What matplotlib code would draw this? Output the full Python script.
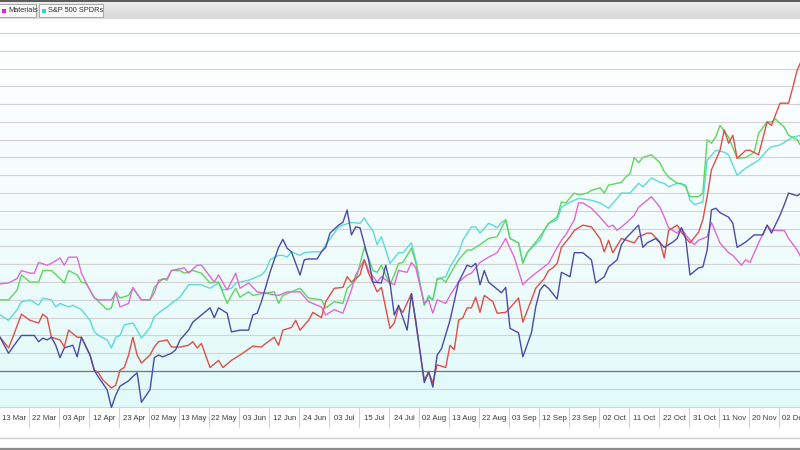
import numpy as np
import matplotlib
matplotlib.use("Agg")
import matplotlib.pyplot as plt
from matplotlib.colors import LinearSegmentedColormap
from matplotlib.patches import Rectangle
from matplotlib.lines import Line2D

# Sector performance vs S&P 500, % change, x = trading session index

labels = ["13 Mar", "22 Mar", "03 Apr", "12 Apr", "23 Apr", "02 May", "13 May",
          "22 May", "03 Jun", "12 Jun", "24 Jun", "03 Jul", "15 Jul", "24 Jul",
          "02 Aug", "13 Aug", "22 Aug", "03 Sep", "12 Sep", "23 Sep", "02 Oct",
          "11 Oct", "22 Oct", "31 Oct", "11 Nov", "20 Nov", "02 Dec"]
sessions_per_label = 7

navy_x = [0, 2, 3, 5, 8, 9, 10, 11, 12, 13, 14, 15, 17, 18, 19, 21, 22, 23, 25, 26,
          27, 28, 30, 31, 32, 33, 35, 36, 37, 38, 40, 41, 42, 44, 45, 47, 49, 50, 51, 53,
          54, 56, 58, 59, 60, 61, 63, 64, 65, 66, 67, 68, 70, 71, 72, 74, 75, 76, 77, 79,
          80, 81, 82, 83, 84, 86, 87, 89, 90, 91, 92, 93, 95, 96, 97, 99, 100, 101, 102, 103,
          105, 107, 109, 110, 111, 112, 113, 114, 117, 118, 119, 121, 122, 124, 125, 126, 127, 128, 130, 131,
          133, 134, 136, 138, 139, 141, 142, 144, 145, 146, 149, 150, 151, 153, 155, 157, 158, 159, 160, 161,
          163, 164, 165, 166, 167, 168, 170, 171, 172, 174, 176, 178, 179, 180, 182, 183, 184, 186, 187]
navy_y = [3.8, 2.0, 2.7, 4.0, 4.0, 3.3, 3.7, 3.5, 3.8, 2.9, 1.5, 2.6, 2.9, 1.6, 3.8, 1.8, 0.1, -0.7, -2.1, -4.1,
          -2.7, -1.7, -1.1, -0.6, -0.2, -3.5, -2.1, 1.5, 1.8, 1.6, 2.0, 2.4, 3.5, 4.6, 5.5, 6.3, 7.1, 6.0, 7.1, 6.5,
          4.4, 4.6, 4.6, 6.3, 6.5, 7.8, 11.1, 12.5, 13.9, 14.8, 13.8, 13.4, 10.8, 12.5, 12.6, 12.6, 13.4, 13.9, 15.5, 16.4,
          16.7, 18.1, 15.3, 16.2, 16.1, 12.5, 10.0, 9.9, 11.9, 9.9, 6.3, 7.4, 4.6, 8.7, 5.7, -1.3, -0.1, -1.8, 1.8, 2.5,
          5.7, 10.0, 11.9, 11.7, 12.1, 9.7, 11.3, 10.0, 8.8, 9.4, 4.8, 4.3, 1.6, 4.3, 7.2, 9.1, 9.7, 9.3, 8.1, 11.1,
          10.6, 13.3, 13.3, 12.5, 9.9, 10.6, 11.7, 12.5, 14.2, 14.9, 16.4, 13.9, 14.4, 14.9, 13.9, 14.5, 14.9, 16.1, 14.9, 10.8,
          11.6, 11.7, 13.6, 18.1, 18.3, 17.8, 17.3, 16.6, 13.9, 14.5, 15.3, 15.3, 16.4, 15.5, 17.5, 18.7, 20.0, 19.7, 20.0]

red_x = [0, 2, 3, 5, 7, 9, 10, 11, 12, 14, 15, 16, 18, 19, 21, 22, 23, 24, 26, 27,
         28, 29, 30, 31, 32, 33, 35, 36, 37, 39, 40, 42, 44, 45, 46, 47, 49, 51, 52, 54,
         56, 59, 61, 62, 64, 65, 66, 68, 69, 70, 72, 73, 75, 76, 78, 80, 81, 82, 84, 85,
         86, 88, 89, 91, 92, 93, 94, 96, 99, 100, 101, 102, 104, 105, 106, 107, 108, 109, 110, 111,
         112, 113, 115, 116, 118, 119, 121, 122, 124, 125, 127, 128, 129, 130, 131, 133, 134, 136, 138, 140,
         141, 142, 143, 145, 148, 149, 151, 152, 154, 155, 156, 158, 159, 161, 163, 164, 165, 166, 168, 169,
         170, 171, 172, 174, 175, 177, 179, 180, 182, 184, 185, 186, 187]
red_y = [3.8, 2.6, 3.8, 6.4, 5.7, 5.4, 6.4, 6.0, 3.8, 3.5, 2.7, 4.6, 3.8, 3.8, 1.8, 0.1, -0.2, -1.0, -1.9, -1.6,
         0.1, 0.4, 1.8, 3.8, 1.8, 0.9, 1.8, 2.7, 3.3, 3.5, 2.7, 2.7, 2.9, 3.3, 2.6, 3.1, 0.4, 1.2, 0.4, 1.2,
         1.8, 2.8, 2.7, 3.1, 3.8, 2.9, 4.6, 4.9, 5.7, 4.6, 5.7, 6.6, 6.0, 7.8, 9.3, 9.4, 10.6, 10.0, 10.8, 12.5,
         11.0, 8.9, 9.4, 4.8, 5.4, 7.2, 6.6, 8.7, -1.0, -0.1, -1.3, 0.7, 0.4, 2.9, 2.4, 5.7, 6.0, 7.1, 7.1, 8.3,
         6.6, 8.5, 7.8, 6.5, 6.6, 7.1, 8.2, 5.5, 8.0, 9.3, 10.4, 11.3, 11.6, 12.1, 13.9, 15.1, 15.8, 16.4, 16.2, 14.9,
         13.4, 14.7, 13.3, 14.9, 14.4, 15.1, 15.5, 15.5, 14.5, 12.7, 15.8, 16.4, 15.6, 14.4, 15.6, 17.0, 19.6, 22.6, 24.8, 27.1,
         25.6, 26.5, 23.9, 24.8, 24.8, 24.3, 28.0, 27.6, 30.1, 30.1, 31.9, 33.8, 34.9]

green_x = [0, 2, 4, 5, 7, 9, 10, 12, 14, 15, 16, 18, 19, 20, 22, 23, 25, 26, 27, 28,
           30, 31, 33, 35, 36, 38, 39, 40, 42, 43, 45, 47, 49, 51, 52, 53, 54, 55, 56, 58,
           59, 62, 64, 65, 66, 68, 70, 72, 75, 76, 78, 80, 81, 83, 85, 86, 87, 88, 89, 90,
           91, 92, 93, 94, 96, 97, 99, 100, 101, 102, 103, 104, 106, 107, 109, 110, 112, 114, 116, 118,
           119, 121, 122, 123, 124, 126, 128, 130, 131, 132, 134, 135, 137, 138, 140, 141, 142, 145, 146, 147,
           148, 149, 150, 152, 154, 155, 156, 158, 159, 160, 161, 163, 164, 165, 166, 167, 168, 170, 172, 174,
           176, 177, 179, 180, 181, 183, 184, 186, 187]
green_y = [8.0, 8.0, 9.1, 10.8, 10.0, 10.0, 11.3, 11.3, 10.4, 9.9, 11.3, 10.8, 10.0, 9.9, 8.3, 7.8, 6.9, 7.1, 8.9, 8.2,
           8.5, 9.3, 8.0, 8.0, 9.4, 10.4, 10.2, 11.3, 11.3, 11.0, 11.3, 11.0, 9.9, 10.0, 8.8, 7.6, 8.5, 9.3, 8.3, 8.9,
           8.5, 8.8, 8.9, 7.6, 8.5, 8.9, 9.3, 8.2, 8.0, 7.1, 7.8, 7.6, 9.3, 10.2, 13.9, 12.7, 11.3, 11.1, 11.9, 10.8,
           9.7, 10.8, 12.1, 12.2, 13.8, 12.2, 7.4, 8.3, 8.0, 10.3, 10.4, 10.0, 11.7, 12.5, 13.6, 13.6, 14.2, 14.9, 15.1, 17.0,
           14.9, 14.4, 12.1, 13.3, 13.9, 15.1, 16.6, 17.3, 19.0, 18.9, 20.0, 19.8, 20.0, 20.3, 20.6, 20.0, 20.9, 21.2, 21.8, 22.2,
           24.0, 23.4, 24.0, 24.3, 23.4, 22.4, 21.8, 21.1, 21.1, 20.7, 19.6, 19.6, 20.0, 26.0, 25.6, 26.3, 27.6, 26.3, 23.9, 24.0,
           24.6, 26.7, 28.0, 28.0, 28.3, 27.4, 26.5, 26.0, 25.2]

cyan_x = [0, 2, 4, 5, 7, 9, 10, 12, 13, 14, 16, 17, 19, 21, 22, 23, 25, 26, 27, 28,
          29, 31, 32, 33, 35, 36, 38, 39, 40, 42, 44, 46, 47, 49, 51, 52, 54, 55, 58, 59,
          61, 62, 63, 65, 66, 67, 68, 70, 71, 73, 75, 76, 78, 79, 80, 82, 84, 85, 86, 87,
          88, 89, 91, 92, 93, 94, 96, 97, 99, 100, 101, 102, 104, 105, 107, 108, 110, 111, 112, 114,
          115, 116, 117, 118, 119, 121, 122, 123, 124, 126, 127, 128, 130, 131, 132, 134, 135, 138, 140, 142,
          144, 145, 147, 149, 150, 151, 152, 154, 155, 156, 158, 160, 161, 162, 164, 165, 167, 169, 170, 172,
          174, 177, 179, 180, 182, 184, 185, 187]
cyan_y = [6.3, 5.7, 6.9, 7.8, 8.0, 7.4, 8.2, 8.0, 7.2, 7.6, 7.2, 7.4, 6.9, 5.7, 4.4, 4.0, 3.5, 2.6, 3.8, 4.0,
          5.2, 5.4, 4.6, 3.7, 4.9, 6.1, 6.9, 7.2, 7.6, 8.3, 9.7, 9.7, 9.7, 9.3, 9.9, 9.1, 9.3, 9.9, 10.2, 10.4,
          10.8, 11.3, 12.5, 13.0, 13.0, 12.8, 13.4, 13.0, 13.3, 13.4, 13.4, 14.2, 15.5, 16.2, 16.4, 16.7, 16.6, 17.2, 16.4, 15.8,
          14.2, 15.1, 12.1, 12.7, 13.3, 13.3, 14.4, 12.5, 7.4, 8.5, 8.0, 10.4, 10.6, 11.7, 13.3, 14.7, 16.2, 16.2, 15.5, 16.6,
          16.4, 16.1, 16.7, 17.0, 14.9, 14.4, 12.2, 13.3, 13.8, 14.7, 15.8, 16.6, 17.0, 18.4, 18.7, 19.2, 19.4, 19.2, 18.9, 18.3,
          19.4, 20.0, 20.0, 21.1, 20.7, 21.2, 21.7, 21.2, 21.1, 20.7, 21.1, 20.9, 19.2, 18.7, 19.0, 23.7, 24.8, 24.6, 24.3, 22.0,
          22.8, 23.7, 24.8, 25.2, 25.4, 26.0, 26.3, 26.5]

pink_x = [0, 2, 4, 5, 7, 8, 9, 11, 12, 14, 15, 16, 18, 19, 20, 21, 22, 23, 26, 27,
          28, 30, 31, 33, 35, 36, 37, 39, 40, 43, 44, 46, 47, 50, 51, 53, 55, 56, 58, 60,
          65, 67, 70, 72, 75, 76, 78, 80, 82, 83, 85, 86, 88, 89, 91, 92, 93, 95, 96, 97,
          99, 100, 101, 102, 104, 105, 107, 109, 110, 112, 114, 116, 118, 119, 120, 122, 123, 125, 128, 130,
          131, 132, 134, 135, 136, 138, 140, 142, 143, 144, 146, 148, 149, 151, 152, 154, 155, 156, 158, 159,
          160, 162, 163, 165, 166, 168, 170, 171, 173, 174, 175, 177, 179, 180, 183, 184, 186, 187]
pink_y = [9.8, 9.9, 10.4, 11.3, 11.0, 11.0, 12.2, 11.9, 12.1, 12.7, 11.9, 12.8, 12.8, 11.0, 10.0, 9.1, 8.2, 8.0, 8.0, 8.8,
          7.2, 7.6, 9.4, 8.0, 8.0, 8.8, 10.2, 10.4, 11.3, 11.6, 11.0, 11.9, 11.9, 10.0, 10.8, 9.1, 11.0, 9.3, 9.9, 8.9,
          8.5, 8.9, 8.9, 7.8, 7.2, 6.3, 6.9, 6.5, 9.1, 10.8, 12.5, 11.3, 10.0, 10.6, 9.9, 9.7, 11.3, 11.1, 12.2, 11.6,
          7.6, 8.0, 6.5, 8.0, 7.6, 8.5, 10.0, 10.8, 11.0, 12.2, 12.8, 13.3, 14.9, 13.8, 12.8, 9.7, 10.2, 11.0, 12.1, 13.9,
          14.7, 15.3, 17.0, 18.9, 18.9, 18.3, 17.3, 16.2, 16.4, 15.8, 16.6, 17.5, 18.4, 19.2, 19.6, 18.4, 17.3, 16.1, 15.5, 16.1,
          15.3, 14.2, 14.7, 15.1, 16.7, 14.4, 13.3, 13.0, 11.9, 12.5, 12.2, 14.4, 16.4, 15.8, 15.8, 14.9, 13.6, 12.7]

series = [
    ("S&P 500 SPDRs", cyan_x, cyan_y, "#5cdada"),
    ("Tech", green_x, green_y, "#5fd65f"),
    ("Materials", pink_x, pink_y, "#e068d6"),
    ("Financials", red_x, red_y, "#de4f48"),
    ("Industrials", navy_x, navy_y, "#4b4ba6"),
]

H = 450
x_max = 800 * sessions_per_label / 30
y_min, y_max = -4.15, 39.45

fig = plt.figure(figsize=(8, 4.5), dpi=100)
fig.patch.set_facecolor("white")

# main plot area
ax = fig.add_axes([0, 1 - 408 / H, 1, 388 / H])
bg = LinearSegmentedColormap.from_list("bg", ["#ffffff", "#f4fdfd", "#e1fafa"])
ax.imshow(np.linspace(0, 1, 256).reshape(-1, 1), cmap=bg, aspect="auto",
          extent=[0, x_max, y_min, y_max], origin="upper", zorder=0)
ax.set_xlim(0, x_max)
ax.set_ylim(y_min, y_max)
for v in np.arange(-4, 39, 2):
    ax.axhline(v, color="#d2d2d2", lw=0.8, zorder=1)
ax.axhline(0, color="#767676", lw=0.9, zorder=1)
for name, xs, ys, col in series:
    ax.plot(xs, ys, color=col, lw=1.0, zorder=3, label=name)
ax.set_xticks([])
ax.set_yticks([])
for s in ax.spines.values():
    s.set_visible(False)

# date label row
lab = fig.add_axes([0, 1 - 428 / H, 1, 20 / H])
lab.set_xlim(0, x_max)
lab.set_ylim(0, 1)
lab.axis("off")
for k, t in enumerate(labels):
    lab.text(k * sessions_per_label + 3.3, 0.5, t, ha="center", va="center",
             fontsize=5.6, color="#3c3c3c", family="Liberation Sans")
    lab.plot([k * sessions_per_label + 6.8] * 2, [0, 1], color="#d0d0d0", lw=0.7)

fig.add_artist(Line2D([0, 1], [1 - 438 / H] * 2, color="#cdcdcd", lw=1.0))
fig.add_artist(Line2D([0, 1], [1 - 449 / H] * 2, color="#8c8c8c", lw=1.6))

# top legend bar
top = fig.add_axes([0, 1 - 20 / H, 1, 20 / H])
top.set_xlim(0, 800)
top.set_ylim(20, 0)
top.axis("off")
gray = LinearSegmentedColormap.from_list("gr", ["#ececec", "#d9d9d9"])
top.imshow(np.linspace(0, 1, 64).reshape(-1, 1), cmap=gray, aspect="auto",
           extent=[0, 800, 19, 0], zorder=0)
top.plot([0, 800], [0.6, 0.6], color="#5a5a5a", lw=1.4, zorder=2)

boxes = [("Materials", "#e020d8", -1, 37), ("S&P 500 SPDRs", "#35cfcf", 39, 64)]
for name, col, x0, w in boxes:
    top.add_patch(Rectangle((x0, 4), w, 13, facecolor="#f8f8f8", edgecolor="#a8a8a8", lw=0.7, zorder=2))
    top.add_patch(Rectangle((x0 + 2.5, 8.5), 4, 4, facecolor=col, edgecolor="none", zorder=3))
    top.text(x0 + 9, 10.8, name, ha="left", va="center", fontsize=5.3,
             color="#333333", family="Liberation Sans", zorder=3)

fig.savefig("out.png", dpi=100)
